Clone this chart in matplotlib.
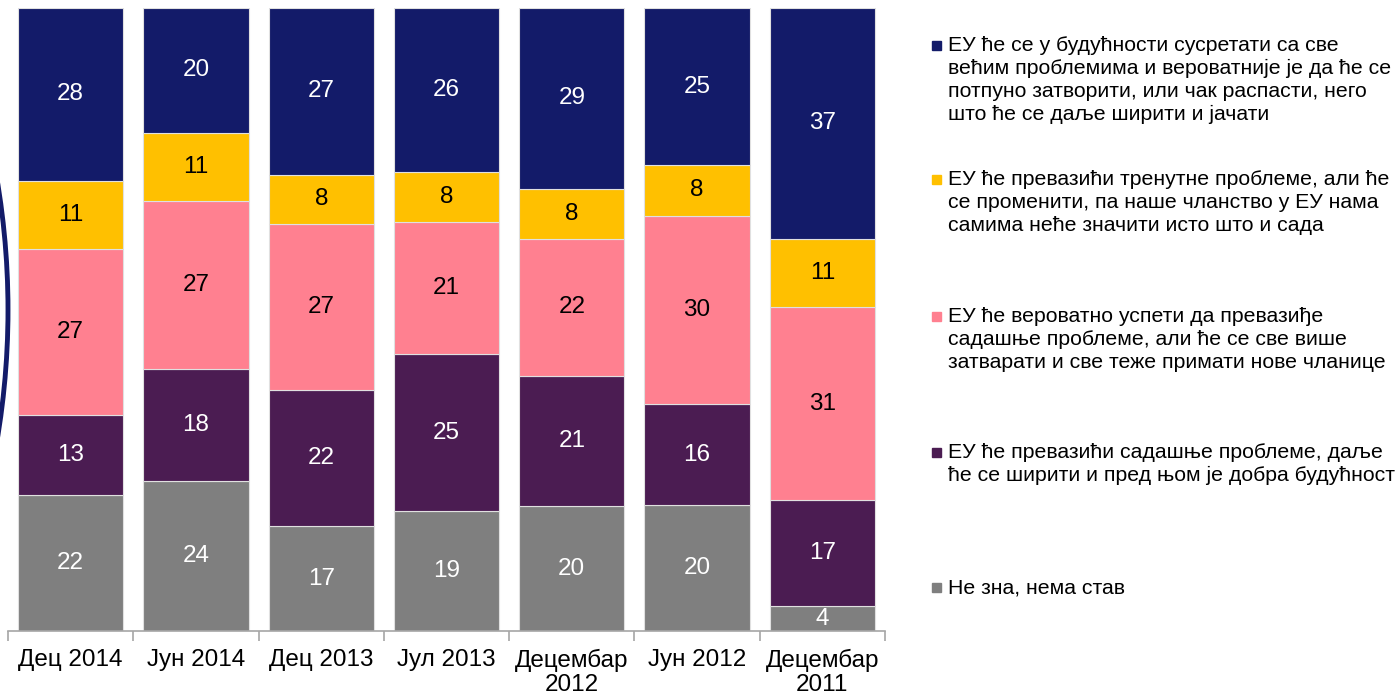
import numpy as np
import matplotlib.pyplot as plt
from matplotlib.patches import Rectangle, Circle

plt.rcParams['font.family'] = ['Liberation Sans', 'DejaVu Sans']

# -----------------------------------------------------
# data (bottom to top of each bar)
# -----------------------------------------------------
categories = ["Дец 2014", "Јун 2014", "Дец 2013", "Јул 2013",
              "Децембар\n2012", "Јун 2012", "Децембар\n2011"]

ne_zna = [22, 24, 17, 19, 20, 20, 4]
dobra = [13, 18, 22, 25, 21, 16, 17]
zatvarati = [27, 27, 27, 21, 22, 30, 31]
promeniti = [11, 11, 8, 8, 8, 8, 11]
raspasti = [28, 20, 27, 26, 29, 25, 37]

series_labels = [
    "Не зна, нема став",
    "ЕУ ће превазићи садашње проблеме, даље\nће се ширити и пред њом је добра будућност",
    "ЕУ ће вероватно успети да превазиђе\nсадашње проблеме, али ће се све више\nзатварати и све теже примати нове чланице",
    "ЕУ ће превазићи тренутне проблеме, али ће\nсе променити, па наше чланство у ЕУ нама\nсамима неће значити исто што и сада",
    "ЕУ ће се у будућности сусретати са све\nвећим проблемима и вероватније је да ће се\nпотпуно затворити, или чак распасти, него\nшто ће се даље ширити и јачати",
]
colors = ["#7f7f7f", "#4b1c52", "#ff8090", "#ffc000", "#131b69"]
text_colors = ["white", "white", "black", "black", "white"]

series = np.array([ne_zna, dobra, zatvarati, promeniti, raspasti], dtype=float)
shares = series / series.sum(axis=0) * 100

# -----------------------------------------------------
# chart
# -----------------------------------------------------
fig = plt.figure(figsize=(14, 6.96), dpi=100)
ax = fig.add_axes([8 / 1400, 1 - 631 / 696, 877 / 1400, 623 / 696])

x = np.arange(len(categories))
bottom = np.zeros(len(categories))
for i in range(len(series)):
    ax.bar(x, shares[i], bottom=bottom, width=0.84, color=colors[i],
           edgecolor="#e0e0e0", linewidth=0.8)
    for j in range(len(categories)):
        ax.text(x[j], bottom[j] + shares[i][j] / 2, f"{int(series[i][j])}",
                ha="center", va="center", fontsize=17.5, color=text_colors[i])
    bottom += shares[i]

ax.set_xlim(-0.5, len(categories) - 0.5)
ax.set_ylim(0, 100)
ax.set_yticks([])
for s in ["top", "right", "left"]:
    ax.spines[s].set_visible(False)
ax.spines["bottom"].set_color("#a6a6a6")
ax.spines["bottom"].set_linewidth(1.2)

ax.set_xticks(np.arange(len(categories) + 1) - 0.5)
ax.set_xticklabels([])
ax.tick_params(axis="x", which="major", length=7, color="#a6a6a6", width=1.2)
ax.set_xticks(x, minor=True)
ax.set_xticklabels(categories, minor=True, fontsize=17.5, linespacing=1.1)
ax.tick_params(axis="x", which="minor", length=0, pad=13)

# -----------------------------------------------------
# legend (drawn by hand, top entry first)
# -----------------------------------------------------
square_tops = [41, 175, 312, 448, 583]
for k, top in enumerate(square_tops):
    i = len(series) - 1 - k
    fig.patches.append(Rectangle((932 / 1400, 1 - (top + 9) / 696), 9 / 1400, 9 / 696,
                                 transform=fig.transFigure, color=colors[i]))
    fig.text(948 / 1400, 1 - (top - 5) / 696, series_labels[i], ha="left", va="top",
             fontsize=15.3, linespacing=1.27)

# dark arc at the left edge
fig.patches.append(Circle((-7.76, 3.86), 7.84, transform=fig.dpi_scale_trans,
                          fill=False, edgecolor="#131b69", linewidth=3.5))

plt.savefig("out.png", dpi=100)
